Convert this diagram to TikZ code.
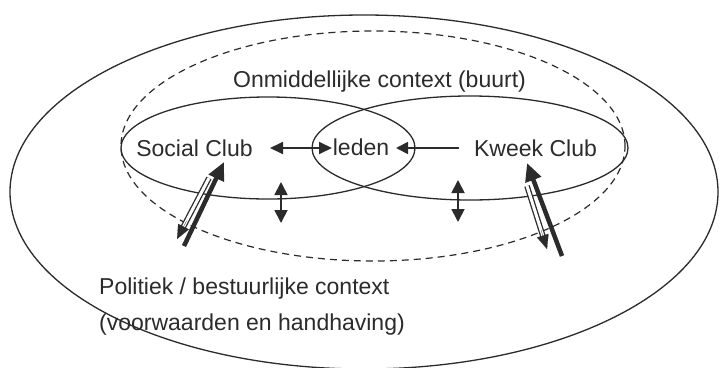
\documentclass[tikz,border=0pt]{standalone}
\usepackage{fontspec}
\setmainfont{Liberation Sans}
\usetikzlibrary{arrows.meta,calc}
\definecolor{ink}{HTML}{2B2B2B}
\begin{document}
\begin{tikzpicture}[x=1pt,y=-1pt,
  ln/.style={draw=ink, line width=1.3pt},
  dsh/.style={draw=ink, line width=1.2pt, dash pattern=on 7pt off 5pt},
  lbl/.style={font=\fontsize{23}{27}\selectfont, text=ink, inner sep=0pt},
  harrow/.style={draw=ink, line width=1.8pt, {Triangle[length=13pt,width=12pt]}-{Triangle[length=13pt,width=12pt]}},
  sarrow/.style={draw=ink, line width=1.8pt, -{Triangle[length=12pt,width=12pt]}},
  varrow/.style={draw=ink, line width=1.8pt, {Triangle[length=13pt,width=13pt]}-{Triangle[length=13pt,width=13pt]}},
  thick arrow/.style={draw=ink, line width=4.5pt, -{Triangle[length=18pt,width=16pt]}},
  hollowshaft/.style={draw=ink, line width=1.3pt, double=white, double distance=3pt},
  hollowtip/.style={draw=ink, fill=ink, line width=0.1pt, -{Triangle[length=14pt,width=12pt]}}]
\useasboundingbox (0,0) rectangle (719,367);
\fill[white] (0,0) rectangle (719,367);
\begin{scope}
\clip (0,0) rectangle (719,367);
\draw[ln] (364,192) ellipse [x radius=354pt, y radius=177pt];
\end{scope}
\draw[dsh] (373,146) ellipse [x radius=252pt, y radius=115pt];
\draw[ln] (268,148) ellipse [x radius=147pt, y radius=51pt];
\draw[ln] (470,148) ellipse [x radius=158pt, y radius=52pt];

\node[lbl, anchor=base] (onm) at (379.5,87) {Onmiddellijke context (buurt)};
\node[lbl, anchor=base] (soc) at (194.5,156) {Social Club};
\node[lbl, anchor=base] (led) at (361,155) {leden};
\node[lbl, anchor=base] (kwe) at (535.5,156) {Kweek Club};
\node[lbl, anchor=base west] (pol) at (99,294) {Politiek / bestuurlijke context};
\node[lbl, anchor=base west] (voo) at (99,330) {(voorwaarden en handhaving)};

% horizontal arrows
\coordinate (h1) at (270,148);
\coordinate (h2) at (332,148);
\coordinate (k1) at (459,148);
\coordinate (k2) at (396,148);
\draw[harrow] (h1) -- (h2);
\draw[sarrow] (k1) -- (k2);

% vertical arrows
\coordinate (v1a) at (281,182);
\coordinate (v1b) at (281,223);
\coordinate (v2a) at (458,180);
\coordinate (v2b) at (458,222);
\draw[varrow] (v1a) -- (v1b);
\draw[varrow] (v2a) -- (v2b);

% left pair
\coordinate (lt1) at (184,246);
\coordinate (lt2) at (224,162);
\draw[thick arrow] (lt1) -- (lt2);
\coordinate (lh1) at (209,178);
\coordinate (lh2) at (177,239);
\draw[hollowshaft] (lh1) -- ($(lh1)!0.82!(lh2)$);
\draw[hollowtip] ($(lh1)!0.7!(lh2)$) -- (lh2);

% right pair
\coordinate (rt1) at (562,256);
\coordinate (rt2) at (527,163);
\draw[thick arrow] (rt1) -- (rt2);
\coordinate (rh1) at (527,186);
\coordinate (rh2) at (547,249);
\draw[hollowshaft] (rh1) -- ($(rh1)!0.82!(rh2)$);
\draw[hollowtip] ($(rh1)!0.7!(rh2)$) -- (rh2);
\end{tikzpicture}
\end{document}
